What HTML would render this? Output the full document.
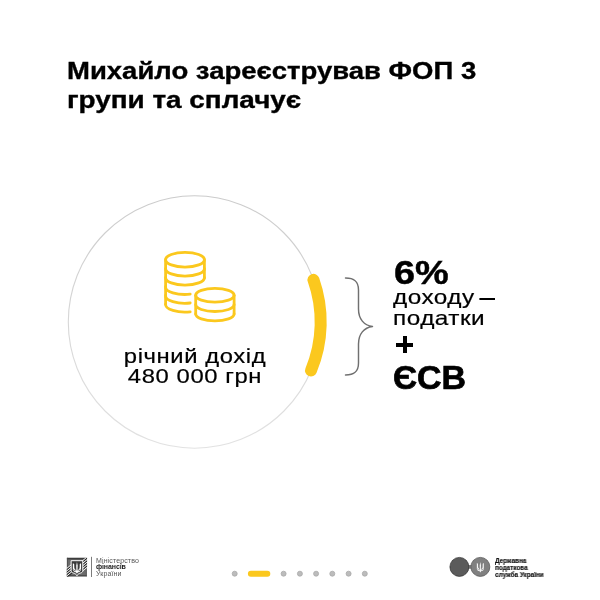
<!DOCTYPE html>
<html lang="uk">
<head>
<meta charset="utf-8">
<title>ФОП 3 група</title>
<style>
  html, body { margin: 0; padding: 0; }
  body {
    width: 600px; height: 600px; overflow: hidden; position: relative;
    background: #ffffff; color: #111111;
    font-family: "Liberation Sans", sans-serif;
  }
  .abs { position: absolute; white-space: nowrap; }
  div.abs { will-change: transform; }
  .title {
    left: 67.2px; font-weight: bold; font-size: 24.2px; line-height: 30px;
    color: #000; transform-origin: 0 0; -webkit-text-stroke: 0.35px #000;
  }
  #t1 { top: 56.1px; transform: scaleX(1.137); }
  #t2 { top: 84.8px; transform: scaleX(1.152); }
  #income {
    left: 95px; width: 200px; top: 346px; text-align: center;
    font-size: 20px; line-height: 20.3px; color: #000; letter-spacing: 0.5px; -webkit-text-stroke: 0.2px #000;
    transform-origin: 50% 0; transform: scaleX(1.19);
  }
  #pct { left: 394.4px; top: 256.3px; font-weight: bold; font-size: 33.6px; line-height: 34px; color: #000; transform-origin: 0 0; transform: scaleX(1.128); -webkit-text-stroke: 0.45px #000; }
  #tax { left: 393.1px; top: 286.8px; font-size: 20.3px; line-height: 20.5px; color: #000; letter-spacing: 0.4px; transform-origin: 0 0; transform: scaleX(1.2); -webkit-text-stroke: 0.2px #000; }
  #tax i { display: inline-block; width: 13px; height: 2px; background: #000; position: relative; top: -4.2px; margin-left: -2px; }
  #esv { left: 393.1px; top: 360.6px; font-weight: bold; font-size: 32.5px; line-height: 34px; color: #000; transform-origin: 0 0; transform: scaleX(1.043); -webkit-text-stroke: 0.7px #000; }
  #plus-h { left: 395.6px; top: 342.5px; width: 17.4px; height: 3.6px; background: #000; }
  #plus-v { left: 402.5px; top: 335.6px; width: 3.6px; height: 17.4px; background: #000; }
  #art { left: 0; top: 0; }
  .logo-l { left: 96px; font-size: 7px; line-height: 7px; color: #555; letter-spacing: 0.12px; }
  .logo-r { left: 495px; font-size: 6.7px; line-height: 7px; font-weight: bold; color: #111; transform-origin: 0 0; transform: scaleX(0.95); -webkit-text-stroke: 0.15px #111; }
</style>
</head>
<body>

<svg id="art" class="abs" width="600" height="600" viewBox="0 0 600 600">
  <defs>
    <linearGradient id="ring" x1="0" y1="0" x2="0" y2="1">
      <stop offset="0" stop-color="#cbcbcb"/>
      <stop offset="1" stop-color="#e2e2e2"/>
    </linearGradient>
  </defs>
  <!-- big ring -->
  <circle cx="194.5" cy="322" r="126.2" fill="none" stroke="url(#ring)" stroke-width="1.1"/>
  <!-- yellow arc -->
  <path d="M313.46,279.87 A126.2,126.2 0 0 1 311.01,370.5" fill="none" stroke="#fbc81e" stroke-width="12" stroke-linecap="round"/>
  <!-- brace -->
  <path d="M345.5,278 C354,278 358.5,281 358.5,290 L358.5,309 C358.5,319 364,325.5 372.5,326.5 C364,327.5 358.5,334 358.5,344 L358.5,363 C358.5,372 354,375 345.5,375"
        fill="none" stroke="#707070" stroke-width="1.45" stroke-linecap="round" stroke-linejoin="round"/>

  <!-- coins -->
  <g fill="none" stroke="#fbc81e" stroke-width="2.8" stroke-linecap="round" stroke-linejoin="round">
    <!-- left stack -->
    <ellipse cx="185" cy="259.7" rx="19.4" ry="7.4"/>
    <path d="M165.6,259.7 V304.3"/>
    <path d="M204.4,259.7 V278"/>
    <path d="M165.6,268.7 A19.4,7.4 0 0 0 204.4,268.7"/>
    <path d="M165.6,277.7 A19.4,7.4 0 0 0 204.4,277.7"/>
    <path d="M165.6,286.7 A19.4,7.4 0 0 0 190.2,294.2"/>
    <path d="M165.6,295.5 A19.4,7.4 0 0 0 190.2,303"/>
    <path d="M165.6,304.3 A19.4,7.4 0 0 0 190.2,311.8"/>
    <!-- right stack -->
    <ellipse cx="214.9" cy="295.3" rx="19.2" ry="6.9"/>
    <path d="M195.7,295.3 V314"/>
    <path d="M234.1,295.3 V314"/>
    <path d="M195.7,304.6 A19.2,6.9 0 0 0 234.1,304.6"/>
    <path d="M195.7,314 A19.2,6.9 0 0 0 234.1,314"/>
  </g>

  <!-- pagination -->
  <g fill="#bcbcbc" stroke="#a9a9a9" stroke-width="0.8">
    <circle cx="234.7" cy="573.7" r="2.5"/>
    <circle cx="283.6" cy="573.7" r="2.5"/>
    <circle cx="299.9" cy="573.7" r="2.5"/>
    <circle cx="316.1" cy="573.7" r="2.5"/>
    <circle cx="332.3" cy="573.7" r="2.5"/>
    <circle cx="348.6" cy="573.7" r="2.5"/>
    <circle cx="364.8" cy="573.7" r="2.5"/>
  </g>
  <rect x="247.9" y="570.7" width="22.4" height="6" rx="3" fill="#fbc81e"/>

  <!-- left logo emblem (drawn in a 600-unit zoom space: 1 unit = 1/27.27 px) -->
  <defs>
    <clipPath id="sq"><rect x="20" y="40" width="555" height="520"/></clipPath>
    <g id="trident" fill="#ffffff">
      <!-- coordinates: 0..224 wide, 0..315 tall -->
      <path d="M112,-5 L132,95 L128,215 L150,262 L112,318 L74,262 L96,215 L92,95 Z"/>
      <path d="M0,27 L36,50 L40,165 Q76,185 82,250 L82,275 L52,275 Q8,255 0,212 Z M18,188 L18,214 Q30,240 60,250 Q52,208 18,188 Z" fill-rule="evenodd"/>
      <path d="M224,27 L188,50 L184,165 Q148,185 142,250 L142,275 L172,275 Q216,255 224,212 Z M206,188 L206,214 Q194,240 164,250 Q172,208 206,188 Z" fill-rule="evenodd"/>
    </g>
  </defs>
  <g transform="translate(66,556) scale(0.036667)">
    <rect x="25" y="50" width="540" height="505" fill="#6b6b6b"/>
    <rect x="25" y="50" width="540" height="42" fill="#3d3d3d"/>
    <rect x="25" y="50" width="22" height="505" fill="#4c4c4c"/>
    <rect x="25" y="520" width="540" height="35" fill="#4a4a4a"/>
    <rect x="543" y="50" width="22" height="505" fill="#555"/>
    <g clip-path="url(#sq)" stroke-linecap="butt">
      <!-- upper-right stripes -->
      <g stroke="#2a2a2a" stroke-width="34">
        <path d="M400,208 L600,42"/><path d="M400,278 L600,112"/><path d="M400,348 L600,182"/><path d="M400,418 L600,252"/>
      </g>
      <g stroke="#ffffff" stroke-width="26">
        <path d="M400,172 L600,6"/><path d="M400,242 L600,76"/><path d="M400,312 L600,146"/><path d="M400,382 L600,216"/><path d="M440,420 L600,287"/>
      </g>
      <!-- lower-left stripes -->
      <g stroke="#2a2a2a" stroke-width="34">
        <path d="M0,392 L200,226"/><path d="M0,460 L200,294"/><path d="M0,528 L200,362"/><path d="M0,596 L200,430"/>
      </g>
      <g stroke="#ffffff" stroke-width="26">
        <path d="M0,356 L200,190"/><path d="M0,424 L200,258"/><path d="M0,492 L200,326"/><path d="M0,560 L200,394"/>
      </g>
    </g>
    <!-- shield -->
    <path d="M140,128 H458 V395 C458,440 430,455 395,465 C350,478 315,500 299,538 C283,500 248,478 203,465 C168,455 140,440 140,395 Z"
          fill="#3a3a3a" stroke="#ffffff" stroke-width="27" stroke-linejoin="round"/>
    <use href="#trident" transform="translate(187,168) scale(1,0.99)"/>
  </g>
  <rect x="91" y="556.8" width="0.9" height="20.2" fill="#6e6e6e"/>

  <!-- right logo -->
  <rect x="467.5" y="565" width="5" height="3.8" fill="#858585"/>
  <circle cx="459.4" cy="566.9" r="9.5" fill="#5b5b5b" stroke="#2e2e2e" stroke-width="0.7"/>
  <circle cx="480.35" cy="566.9" r="9.5" fill="#808080" stroke="#5a5a5a" stroke-width="0.8"/>
  <use href="#trident" transform="translate(476.85,562.2) scale(0.0312,0.0322)" opacity="0.93"/>
</svg>

<div id="t1" class="abs title">Михайло зареєстрував ФОП 3</div>
<div id="t2" class="abs title">групи та сплачує</div>

<div id="income" class="abs">річний дохід<br>480 000 грн</div>

<div id="pct" class="abs">6%</div>
<div id="tax" class="abs">доходу <i></i><br>податки</div>
<div id="plus-h" class="abs"></div>
<div id="plus-v" class="abs"></div>
<div id="esv" class="abs">ЄСВ</div>

<div class="abs logo-l" style="top:556.6px;">Міністерство</div>
<div class="abs logo-l" style="top:562.9px;font-weight:bold;color:#1c1c1c;letter-spacing:-0.1px;">фінансів</div>
<div class="abs logo-l" style="top:569.8px;">України</div>

<div class="abs logo-r" style="top:556.7px;">Державна<br>податкова<br>служба України</div>

</body>
</html>
